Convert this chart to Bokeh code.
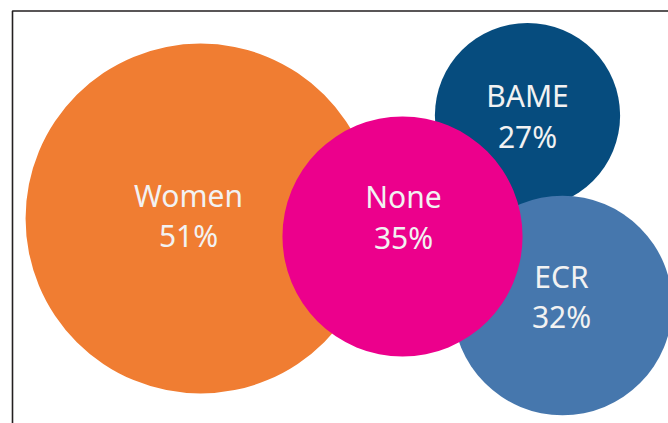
from bokeh.plotting import figure
from bokeh.models import ColumnDataSource, Range1d
from bokeh.core.properties import value
from bokeh.embed import file_html
from bokeh.resources import INLINE

# Data
groups = ["Women", "BAME", "ECR", "None"]
percent = [51, 27, 32, 35]
colors = ["#F07D32", "#064C7E", "#4677AD", "#EC008C"]

# Layout (pixel positions of bubble centres, draw order as listed)
center_x = [200, 527, 562, 402]
center_y = [218, 115, 305, 236]
label_x = [188, 527, 561, 403]
name_base = [195, 95, 276, 196]
pct_base = [235, 136, 316, 237]
px_per_pct = 3.43

W, H = 668, 423
p = figure(width=W, height=H, output_backend="svg", toolbar_location=None,
           x_range=Range1d(0, W), y_range=Range1d(H, 0),
           x_axis_type=None, y_axis_type=None, min_border=0,
           background_fill_color="white", border_fill_color="white",
           outline_line_color=None)
p.grid.visible = False

# frame line (top and left edges visible)
p.line(x=[12, 12, W + 10], y=[H + 10, 10.5, 10.5], line_color="#231F20", line_width=1.6)

src = ColumnDataSource(dict(
    x=center_x, y=center_y,
    r=[v * px_per_pct for v in percent],
    color=colors,
    lx=label_x, ny=name_base, py=pct_base,
    name=groups, pct=[f"{v}%" for v in percent],
))

p.circle(x="x", y="y", radius="r", fill_color="color", line_color=None, source=src)

p.text(x="lx", y="ny", text="name", source=src, text_align="center",
       text_baseline="alphabetic", text_color="#F2F2F2",
       text_font=value("Noto Sans"), text_font_size="30px")
p.text(x="lx", y="py", text="pct", source=src, text_align="center",
       text_baseline="alphabetic", text_color="#F2F2F2",
       text_font=value("Noto Sans"), text_font_size="30px")

open("out.html", "w").write(file_html(p, INLINE))
